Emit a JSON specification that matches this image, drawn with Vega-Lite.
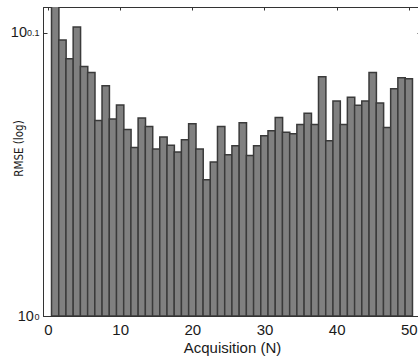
{
  "$schema": "https://vega.github.io/schema/vega-lite/v6.json",
  "autosize": {"type": "none"},
  "padding": {"left": 43, "top": 7, "right": 0, "bottom": 42},
  "width": 378,
  "height": 309,
  "background": "white",
  "config": {
    "view": {"stroke": "#333333", "strokeWidth": 1},
    "font": "Liberation Sans",
    "axis": {"grid": false, "labelColor": "#1a1a1a", "titleColor": "#1a1a1a", "domainColor": "#333333", "tickColor": "#333333", "labelFont": "Liberation Sans", "titleFont": "Liberation Sans", "titleFontWeight": "normal"}
  },
  "data": {"values": [
    {"n": 1, "rmse": 1.3032}, {"n": 2, "rmse": 1.2514}, {"n": 3, "rmse": 1.2325}, {"n": 4, "rmse": 1.2647}, {"n": 5, "rmse": 1.2246},
    {"n": 6, "rmse": 1.2187}, {"n": 7, "rmse": 1.1722}, {"n": 8, "rmse": 1.2056}, {"n": 9, "rmse": 1.1736}, {"n": 10, "rmse": 1.1869},
    {"n": 11, "rmse": 1.1636}, {"n": 12, "rmse": 1.1466}, {"n": 13, "rmse": 1.1744}, {"n": 14, "rmse": 1.1665}, {"n": 15, "rmse": 1.1452},
    {"n": 16, "rmse": 1.1564}, {"n": 17, "rmse": 1.1487}, {"n": 18, "rmse": 1.1426}, {"n": 19, "rmse": 1.1540}, {"n": 20, "rmse": 1.1690},
    {"n": 21, "rmse": 1.1452}, {"n": 22, "rmse": 1.1171}, {"n": 23, "rmse": 1.1332}, {"n": 24, "rmse": 1.1665}, {"n": 25, "rmse": 1.1400},
    {"n": 26, "rmse": 1.1484}, {"n": 27, "rmse": 1.1700}, {"n": 28, "rmse": 1.1392}, {"n": 29, "rmse": 1.1484}, {"n": 30, "rmse": 1.1577},
    {"n": 31, "rmse": 1.1625}, {"n": 32, "rmse": 1.1749}, {"n": 33, "rmse": 1.1609}, {"n": 34, "rmse": 1.1596}, {"n": 35, "rmse": 1.1682},
    {"n": 36, "rmse": 1.1790}, {"n": 37, "rmse": 1.1682}, {"n": 38, "rmse": 1.2145}, {"n": 39, "rmse": 1.1529}, {"n": 40, "rmse": 1.1907},
    {"n": 41, "rmse": 1.1682}, {"n": 42, "rmse": 1.1945}, {"n": 43, "rmse": 1.1866}, {"n": 44, "rmse": 1.1907}, {"n": 45, "rmse": 1.2187},
    {"n": 46, "rmse": 1.1888}, {"n": 47, "rmse": 1.1655}, {"n": 48, "rmse": 1.2028}, {"n": 49, "rmse": 1.2134}, {"n": 50, "rmse": 1.2125}
  ]},
  "layer": [
    {
      "mark": {"type": "bar", "width": 7.4, "fill": "#808080", "stroke": "#3a3a3a", "strokeWidth": 1.5, "clip": true},
      "encoding": {
        "x": {"field": "n", "type": "quantitative", "scale": {"domain": [0, 51], "nice": false, "zero": false},
          "axis": {"orient": "bottom", "values": [0, 10, 20, 30, 40, 50], "ticks": false, "labelPadding": 6.5, "labelFontSize": 15, "labelFlush": false, "labelOverlap": false,
            "title": "Acquisition (N)", "titleFontSize": 15, "titlePadding": 3}},
        "y": {"field": "rmse", "type": "quantitative", "scale": {"type": "log", "domain": [1, 1.2853], "nice": false},
          "axis": {"orient": "left", "values": [1, 1.2589254], "ticks": false, "labelExpr": "'10'", "labelFontSize": 14.5, "labelBaseline": "middle",
            "labelPadding": {"condition": {"test": "datum.value < 1.1", "value": 9.7}, "value": 16.5},
            "title": "RMSE (log)", "titleFont": "DejaVu Sans Condensed, Liberation Sans", "titleFontSize": 11.5, "titleAngle": 270, "titleBaseline": "middle", "titleX": -23.5, "titleY": 141}},
        "y2": {"datum": 1}
      }
    },
    {
      "mark": {"type": "bar", "width": 7.4, "opacity": 0, "clip": true},
      "encoding": {
        "x": {"field": "n", "type": "quantitative", "axis": {"orient": "top", "values": [0, 10, 20, 30, 40, 50], "labels": false, "tickSize": -3, "title": null}},
        "y": {"field": "rmse", "type": "quantitative", "axis": {"orient": "right", "values": [1, 1.2589254], "labels": false, "tickSize": -4, "title": null}},
        "y2": {"datum": 1}
      }
    },
    {
      "mark": {"type": "bar", "width": 7.4, "opacity": 0, "clip": true},
      "encoding": {
        "x": {"field": "n", "type": "quantitative", "axis": null},
        "y": {"field": "rmse", "type": "quantitative", "axis": {"orient": "left", "values": [1, 1.2589254], "ticks": false, "domain": false, "labelExpr": "datum.value < 1.1 ? '0' : '0.1'", "labelFontSize": 9, "labelBaseline": "middle", "labelDy": -6.5, "labelPadding": 4, "title": null}},
        "y2": {"datum": 1}
      }
    },
    {
      "mark": {"type": "bar", "width": 7.4, "opacity": 0, "clip": true},
      "encoding": {
        "x": {"field": "n", "type": "quantitative", "axis": null},
        "y": {"field": "rmse", "type": "quantitative", "axis": {"orient": "left", "values": [1, 1.2589254], "labels": false, "domain": false, "tickSize": -4, "title": null}},
        "y2": {"datum": 1}
      }
    }
  ],
  "resolve": {"axis": {"x": "independent", "y": "independent"}}
}
